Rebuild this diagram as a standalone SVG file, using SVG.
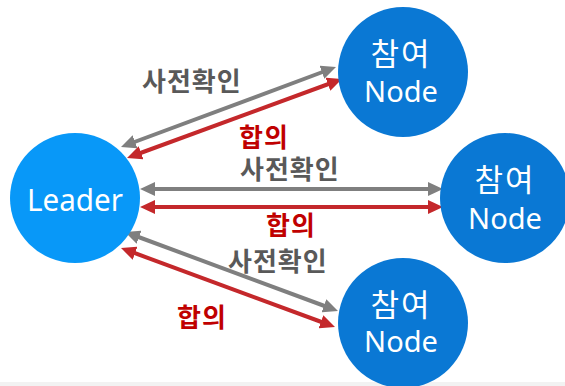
<svg xmlns="http://www.w3.org/2000/svg" width="565" height="386" viewBox="0 0 565 386">
  <style>
    .leader { fill: #0898f8; }
    .peer { fill: #0a78d4; }
    .ntext { fill: #ffffff; font-family: "Noto Sans", "Noto Sans CJK KR", sans-serif; text-anchor: middle; }
    .ko { font-family: "Noto Sans CJK KR", sans-serif; }
    .lbl { font-family: "Noto Sans CJK KR", sans-serif; font-weight: bold; font-size: 26px; letter-spacing: 1px; }
    .gray { fill: #595959; }
    .red { fill: #c00000; }
    .ag { stroke: #7f7f7f; stroke-width: 4; fill: none; marker-start: url(#hg); marker-end: url(#hg); }
    .ar { stroke: #c4282b; stroke-width: 4; fill: none; marker-start: url(#hr); marker-end: url(#hr); }
  </style>
  <defs>
    <marker id="hg" markerUnits="userSpaceOnUse" viewBox="0 0 16 14" markerWidth="16" markerHeight="14" refX="5" refY="7" orient="auto-start-reverse">
      <path d="M0,0 L15,7 L0,14 z" fill="#7f7f7f"/>
    </marker>
    <marker id="hr" markerUnits="userSpaceOnUse" viewBox="0 0 16 14" markerWidth="16" markerHeight="14" refX="5" refY="7" orient="auto-start-reverse">
      <path d="M0,0 L15,7 L0,14 z" fill="#c4282b"/>
    </marker>
  </defs>

  <rect x="0" y="0" width="565" height="386" fill="#ffffff"/>
  <rect x="0" y="382" width="565" height="4" fill="#f2f2f2"/>

  <g id="connectors">
    <line class="ag" x1="130.4" y1="143.5" x2="326.6" y2="70.5"/>
    <line class="ar" x1="136.4" y1="154.5" x2="332.6" y2="82.5"/>
    <line class="ag" x1="150" y1="189" x2="433" y2="189"/>
    <line class="ar" x1="150" y1="207" x2="433" y2="207"/>
    <line class="ag" x1="134.4" y1="235.5" x2="328.6" y2="307.5"/>
    <line class="ar" x1="130.4" y1="251.5" x2="325.6" y2="323.5"/>
  </g>

  <g id="labels">
    <text class="lbl gray" x="142" y="91">사전확인</text>
    <text class="lbl red" x="239" y="147">합의</text>
    <text class="lbl gray" x="240" y="179">사전확인</text>
    <text class="lbl red" x="266" y="235">합의</text>
    <text class="lbl gray" x="228" y="271">사전확인</text>
    <text class="lbl red" x="177" y="327">합의</text>
  </g>

  <g id="leader">
    <circle class="leader" cx="75" cy="198" r="65"/>
    <text class="ntext" x="75" y="211" font-size="31" textLength="96" lengthAdjust="spacingAndGlyphs">Leader</text>
  </g>

  <g id="peer-top">
    <circle class="peer" cx="403" cy="72" r="65"/>
    <text class="ntext ko" x="401" y="65" font-size="31" letter-spacing="2">참여</text>
    <text class="ntext" x="401" y="102" font-size="29">Node</text>
  </g>

  <g id="peer-middle">
    <circle class="peer" cx="505" cy="198" r="65"/>
    <text class="ntext ko" x="505" y="191" font-size="31" letter-spacing="2">참여</text>
    <text class="ntext" x="505" y="229" font-size="29">Node</text>
  </g>

  <g id="peer-bottom">
    <circle class="peer" cx="403" cy="323" r="65"/>
    <text class="ntext ko" x="401" y="316" font-size="31" letter-spacing="2">참여</text>
    <text class="ntext" x="401" y="352" font-size="29">Node</text>
  </g>
</svg>
